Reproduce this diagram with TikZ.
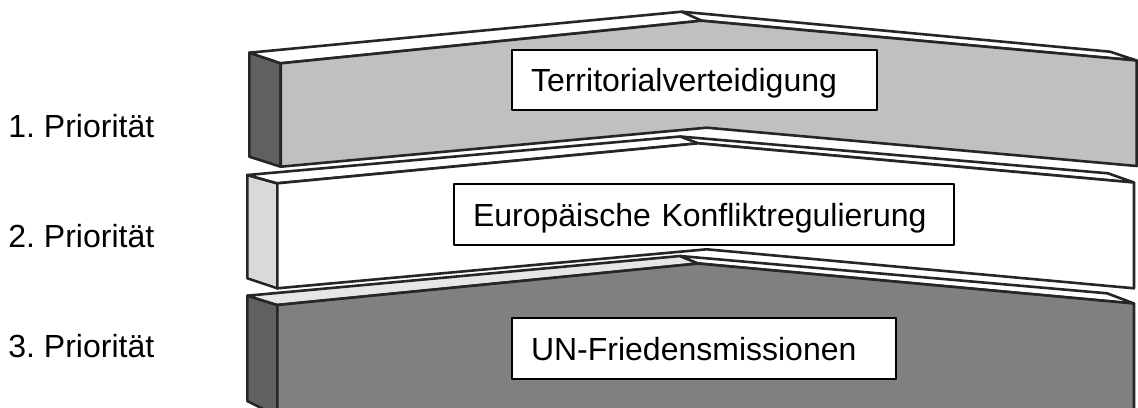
\documentclass[tikz,border=0pt]{standalone}
\usepackage{fontspec}
\setmainfont{Liberation Sans}
\frenchspacing
\definecolor{edge}{HTML}{262626}
\definecolor{frontA}{HTML}{C0C0C0}
\definecolor{sideA}{HTML}{606060}
\definecolor{sideB}{HTML}{D9D9D9}
\definecolor{frontC}{HTML}{808080}
\definecolor{sideC}{HTML}{606060}
\definecolor{topC}{HTML}{E6E6E6}
\begin{document}
\begin{tikzpicture}[x=0.5pt,y=-0.5pt,line join=round,
  face/.style={draw=edge,line width=1.3pt},
  tbox/.style={draw=black,fill=white,line width=1pt,text height=11.5pt,text depth=0pt,
    inner xsep=9.5pt,inner ysep=0pt,align=left,font=\fontsize{16}{19}\selectfont\frenchspacing},
  plabel/.style={anchor=base west,inner sep=0pt,font=\fontsize{16}{19}\selectfont\frenchspacing}]
\clip (0,0) rectangle (1138,407);
% ---- block 3 (bottom) ----
\filldraw[face,fill=sideC] (247.3,295.7) -- (277.3,305) -- (277.3,416) -- (247.3,401) -- cycle;
\filldraw[face,fill=topC] (247.3,295.7) -- (680,256) -- (698.3,263.5) -- (277.3,305) -- cycle;
\filldraw[face,fill=white] (680,256) -- (1107,293.3) -- (1134,303.5) -- (698.3,263.5) -- cycle;
\filldraw[face,fill=frontC] (277.3,305) -- (698.3,263.5) -- (1134,303.5) -- (1134,416) -- (277.3,416) -- cycle;
% ---- block 2 (middle) ----
\filldraw[face,fill=sideB] (247.3,175) -- (277.3,183.3) -- (277.3,288.3) -- (247.3,278.3) -- cycle;
\filldraw[face,fill=white] (247.3,175) -- (680,136.5) -- (1108,173.3) -- (1134,182.5) -- (698.3,143.3) -- (277.3,183.3) -- cycle;
\draw[face] (680,136.5) -- (698.3,143.3);
\filldraw[face,fill=white] (277.3,183.3) -- (698.3,143.3) -- (1134,182.5) -- (1134,288.3) -- (706.7,249.3) -- (277.3,288.3) -- cycle;
% ---- block 1 (top) ----
\filldraw[face,fill=sideA] (249.3,52.7) -- (280.7,63.3) -- (280.7,166.7) -- (249.3,156.7) -- cycle;
\filldraw[face,fill=white] (249.3,52.7) -- (681.7,11.7) -- (1110,51.7) -- (1136.7,60.5) -- (701.7,20.7) -- (280.7,63.3) -- cycle;
\draw[face] (681.7,11.7) -- (701.7,20.7);
\filldraw[face,fill=frontA] (280.7,63.3) -- (701.7,20.7) -- (1136.7,60.5) -- (1136.7,166) -- (706.7,127.7) -- (280.7,166.7) -- cycle;
% ---- text boxes ----
\node[tbox,text width=163.5pt,minimum height=30pt] (t1) at (694.5,80) {Territorialverteidigung};
\node[tbox,text width=231pt,minimum height=30.5pt] (t2) at (704,214.5) {Europäische Konfliktregulierung};
\node[tbox,text width=173pt,minimum height=30.5pt] (t3) at (704,348.5) {UN-Friedensmissionen};
% ---- priority labels ----
\node[plabel] (p1) at (8,137.7) {1. Priorität};
\node[plabel] (p2) at (8,247.7) {2. Priorität};
\node[plabel] (p3) at (8,357.7) {3. Priorität};
\end{tikzpicture}
\end{document}
